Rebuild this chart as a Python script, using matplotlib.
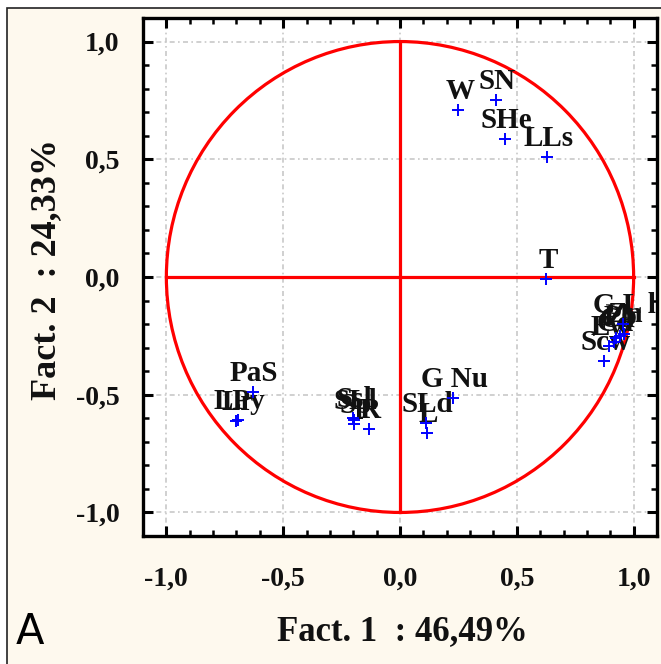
import numpy as np
import matplotlib
matplotlib.use("Agg")
import matplotlib.pyplot as plt
from matplotlib.patches import Circle, Rectangle
from matplotlib.ticker import MultipleLocator, FuncFormatter

# ---- data (factor loadings) ----
labels = ["W", "SN", "SHe", "LLs", "T",
          "Scw", "Ew", "Cd", "Ca", "Pb", "G L l", "Zn",
          "PaS", "LPy", "Lr",
          "SLl", "Ssl", "Sp", "R",
          "SLd", "L", "G Nu"]
fact1 = [0.25, 0.41, 0.45, 0.63, 0.627,
         0.874, 0.895, 0.915, 0.925, 0.94, 0.955, 0.96,
         -0.63, -0.695, -0.70,
         -0.196, -0.20, -0.196, -0.132,
         0.11, 0.115, 0.226]
fact2 = [0.71, 0.75, 0.585, 0.51, -0.01,
         -0.357, -0.293, -0.275, -0.26, -0.25, -0.20, -0.24,
         -0.49, -0.607, -0.61,
         -0.607, -0.60, -0.624, -0.645,
         -0.62, -0.662, -0.514]

xlabel = "Fact. 1  : 46,49%"
ylabel = "Fact. 2  : 24,33%"
major_ticks = [-1.0, -0.5, 0.0, 0.5, 1.0]

W, H = 661, 664
fig = plt.figure(figsize=(W / 100, H / 100), dpi=100)
fig.patch.set_facecolor("white")
# cream panel with thin black frame
fig.patches.append(Rectangle((7 / W, -0.05), 1.2, 1 - 8 / H + 0.05,
                             transform=fig.transFigure, facecolor="#FEF9EE",
                             edgecolor="#222222", linewidth=1.2, zorder=-5))

ax = fig.add_axes([143 / W, 1 - 536 / H, (657 - 143) / W, (536 - 18) / H])
ax.set_zorder(2)
ax.set_facecolor("white")
ax.set_xlim(-1.1, 1.1)
ax.set_ylim(-1.1, 1.1)

serif = ["Liberation Serif", "DejaVu Serif"]

# grid
for t in major_ticks:
    ax.axvline(t, color="#C8C8C8", lw=1.2, ls=(0, (3, 2, 1, 2)), zorder=1)
    ax.axhline(t, color="#C8C8C8", lw=1.2, ls=(0, (3, 2, 1, 2)), zorder=1)

# unit circle and axes
ax.add_patch(Circle((0, 0), 1.0, fill=False, edgecolor="red", lw=2.3, zorder=2))
ax.plot([-1, 1], [0, 0], color="red", lw=2.3, zorder=2)
ax.plot([0, 0], [-1, 1], color="red", lw=2.3, zorder=2)

# labels then markers
for lab, x, y in zip(labels, fact1, fact2):
    t = ax.annotate(lab, (x, y), xytext=(1, 8), textcoords="offset points",
                    ha="center", va="baseline", fontsize=21, fontweight="bold",
                    family=serif, color="#111111", zorder=3, annotation_clip=False)
    t.set_clip_on(True)
    t.set_clip_box(ax.bbox)
ax.plot(fact1, fact2, ls="none", marker="+", color="#0000FF", ms=8, mew=1.4, zorder=4)

# ticks
ax.xaxis.set_major_locator(MultipleLocator(0.5))
ax.yaxis.set_major_locator(MultipleLocator(0.5))
ax.xaxis.set_minor_locator(MultipleLocator(0.1))
ax.yaxis.set_minor_locator(MultipleLocator(0.1))
fmt = FuncFormatter(lambda v, p: f"{v:.1f}".replace(".", ",").replace("-0,0", "0,0"))
ax.xaxis.set_major_formatter(fmt)
ax.yaxis.set_major_formatter(fmt)
ax.tick_params(which="both", direction="in", top=True, right=True, color="black")
ax.tick_params(which="major", length=7, width=2.2)
ax.tick_params(which="minor", length=4, width=1.8)
for lab in ax.get_xticklabels() + ax.get_yticklabels():
    lab.set_fontfamily(serif)
    lab.set_fontweight("bold")
    lab.set_fontsize(20)
    lab.set_color("#111111")
ax.tick_params(axis="x", pad=22)
ax.tick_params(axis="y", pad=17)
for s in ax.spines.values():
    s.set_linewidth(2.4)
    s.set_color("black")

fig.text(402 / W, 1 - 632 / H, xlabel, ha="center", va="center", fontsize=25,
         fontweight="bold", family=serif, color="#111111")
fig.text(47 / W, 1 - 270 / H, ylabel, ha="center", va="center", rotation=90,
         fontsize=26, fontweight="bold", family=serif, color="#111111")
fig.text(16 / W, 1 - 632 / H, "A", ha="left", va="center", fontsize=30,
         family=["DejaVu Sans"], color="black")

fig.savefig("out.png", dpi=100, facecolor=fig.get_facecolor())
